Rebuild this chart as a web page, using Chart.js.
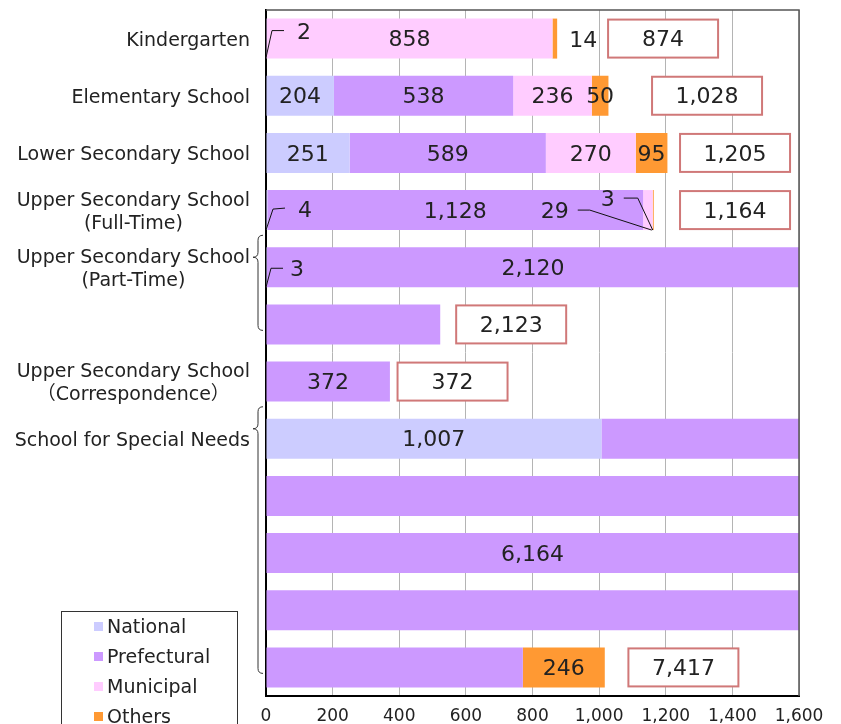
<!DOCTYPE html>
<html>
<head>
<meta charset="utf-8">
<script src="https://cdn.jsdelivr.net/npm/chart.js@4.4.1/dist/chart.umd.min.js"></script>
<style>
  html, body { margin: 0; padding: 0; background: #fff; }
  canvas { display: block; }
</style>
</head>
<body>
<canvas id="chart" width="841" height="724"></canvas>
<script>
// school types; a bar longer than the axis max runs on over the next rows
const schools = [
  ["Kindergarten"],
  ["Elementary School"],
  ["Lower Secondary School"],
  ["Upper Secondary School", "(Full-Time)"],
  ["Upper Secondary School", "(Part-Time)"],
  ["Upper Secondary School", "（Correspondence）"],
  ["School for Special Needs"],
];
const sectors = ["National", "Prefectural", "Municipal", "Others"];
const national = [2, 204, 251, 4, 3, 0, 1007];
const prefectural = [0, 538, 589, 1128, 2120, 372, 6164];
const municipal = [858, 236, 270, 29, 0, 0, 0];
const others = [14, 50, 95, 3, 0, 0, 246];
const xTicks = [0, 200, 400, 600, 800, 1000, 1200, 1400, 1600];

const series = [national, prefectural, municipal, others];
const colors = ["#ccccff", "#cc99ff", "#ffccff", "#ff9933"];
const rowMax = xTicks[xTicks.length - 1];
const FONT = '"DejaVu Sans", "Noto Sans CJK JP", sans-serif';
const INK = "#222";
const NUDGE = 2; // canvas "middle" sits a bit high for this font

// centre of each total box, in axis units
const totalBoxAt = [1192, 1324, 1408, 1408, 736, 560, 1253];

// small values put beside the bar, key "school:sector"
// offsets in px from the bottom corner of the segment (start or end)
const callouts = {
  "0:0": { side: "start", text: [38, -27], line: [[0, -1], [6, -28], [18, -28]] },
  "0:3": { side: "end", text: [26, -19], line: null },
  "3:0": { side: "start", text: [39, -21], line: [[0, 0], [7, -21], [19, -22]] },
  "3:2": { side: "end", text: [-98, -20], line: [[-75, -20], [-63, -20], [-1, 0]] },
  "3:3": { side: "end", text: [-46, -32], line: [[-30, -32], [-16, -32], [-1, 0]] },
  "4:0": { side: "start", text: [31, -19], line: [[0, 0], [5, -19], [17, -19]] },
};

// wrap every school into rows of at most rowMax
const rows = [];
const pieces = {};
schools.forEach((name, s) => {
  let row = { school: s, label: name, vals: [0, 0, 0, 0] };
  let used = 0;
  series.forEach((arr, k) => {
    let left = arr[s];
    while (left > 0) {
      const take = Math.min(left, rowMax - used);
      (pieces[s + ":" + k] ||= []).push({ row: rows.length, from: used, to: used + take });
      row.vals[k] += take;
      used += take;
      left -= take;
      if (used === rowMax) {
        rows.push(row);
        row = { school: s, label: null, vals: [0, 0, 0, 0] };
        used = 0;
      }
    }
  });
  if (used > 0) rows.push(row);
});

const brace = (ctx, x, top, tip, bottom) => {
  const r = 5;
  ctx.beginPath();
  ctx.moveTo(x + r, top);
  ctx.quadraticCurveTo(x, top, x, top + r);
  ctx.lineTo(x, tip - r);
  ctx.quadraticCurveTo(x, tip, x - r, tip);
  ctx.quadraticCurveTo(x, tip, x, tip + r);
  ctx.lineTo(x, bottom - r);
  ctx.quadraticCurveTo(x, bottom, x + r, bottom);
  ctx.stroke();
};

const decor = {
  id: "decor",
  afterDraw(chart) {
    const { ctx, chartArea: a, scales: { x, y } } = chart;
    const half = chart.getDatasetMeta(0).data[0].height / 2;
    ctx.save();

    // frame top and right
    ctx.strokeStyle = "#555";
    ctx.lineWidth = 1.5;
    ctx.beginPath();
    ctx.moveTo(a.left, a.top);
    ctx.lineTo(a.right, a.top);
    ctx.lineTo(a.right, a.bottom);
    ctx.stroke();

    // category labels, lines centred on each other, block flush right
    ctx.fillStyle = INK;
    ctx.font = "19px " + FONT;
    ctx.textAlign = "center";
    ctx.textBaseline = "middle";
    rows.forEach((r, i) => {
      if (!r.label) return;
      const cy = y.getPixelForValue(i) + NUDGE;
      const w = Math.max(...r.label.map((t) => ctx.measureText(t).width));
      const cx = a.left - 16 - w / 2;
      r.label.forEach((t, j) => {
        ctx.fillText(t, cx, cy + (j - (r.label.length - 1) / 2) * 23);
      });
    });

    // braces for schools spread over several rows
    ctx.strokeStyle = "#333";
    ctx.lineWidth = 1;
    schools.forEach((_, s) => {
      const idx = rows.map((r, i) => (r.school === s ? i : -1)).filter((i) => i >= 0);
      if (idx.length < 2) return;
      const first = y.getPixelForValue(idx[0]);
      const last = y.getPixelForValue(idx[idx.length - 1]);
      brace(ctx, a.left - 8, first - 32, first - 10, last + 6);
    });

    // value labels
    ctx.font = "22px " + FONT;
    Object.keys(pieces).forEach((key) => {
      const [s, k] = key.split(":").map(Number);
      const text = series[k][s].toLocaleString("en-US");
      const ps = pieces[key];
      const co = callouts[key];
      if (co) {
        const p = co.side === "start" ? ps[0] : ps[ps.length - 1];
        const ax = x.getPixelForValue(co.side === "start" ? p.from : p.to);
        const ay = y.getPixelForValue(p.row) + half;
        if (co.line) {
          ctx.strokeStyle = "#111";
          ctx.lineWidth = 1;
          ctx.beginPath();
          co.line.forEach(([dx, dy], j) => {
            if (j) ctx.lineTo(ax + dx, ay + dy);
            else ctx.moveTo(ax + dx, ay + dy);
          });
          ctx.stroke();
        }
        ctx.fillText(text, ax + co.text[0], ay + co.text[1] + NUDGE);
        return;
      }
      const longest = Math.max(...ps.map((p) => p.to - p.from));
      const best = ps.filter((p) => p.to - p.from === longest);
      const p = best[Math.floor((best.length - 1) / 2)];
      ctx.fillText(text, x.getPixelForValue((p.from + p.to) / 2), y.getPixelForValue(p.row) + NUDGE);
    });

    // total boxes
    schools.forEach((_, s) => {
      const total = series.reduce((sum, arr) => sum + arr[s], 0);
      let lastRow = 0;
      rows.forEach((r, i) => { if (r.school === s) lastRow = i; });
      const cx = x.getPixelForValue(totalBoxAt[s]);
      const cy = y.getPixelForValue(lastRow);
      ctx.fillStyle = "#fff";
      ctx.fillRect(cx - 55, cy - 19, 110, 38);
      ctx.strokeStyle = "#d07878";
      ctx.lineWidth = 2;
      ctx.strokeRect(cx - 55, cy - 19, 110, 38);
      ctx.fillStyle = INK;
      ctx.fillText(total.toLocaleString("en-US"), cx, cy + NUDGE);
    });

    // legend box (runs off the bottom edge like the original)
    ctx.fillStyle = "#fff";
    ctx.fillRect(61, 611, 177, 130);
    ctx.strokeStyle = "#333";
    ctx.lineWidth = 1;
    ctx.strokeRect(61.5, 611.5, 176, 130);
    ctx.font = "19px " + FONT;
    ctx.textAlign = "left";
    chart.data.datasets.forEach((ds, i) => {
      const cy = 627 + i * 30;
      ctx.fillStyle = ds.backgroundColor;
      ctx.fillRect(94, cy - 5, 9, 9);
      ctx.fillStyle = INK;
      ctx.fillText(ds.label, 107, cy + 1);
    });
    ctx.restore();
  },
};

new Chart(document.getElementById("chart"), {
  type: "bar",
  data: {
    labels: rows.map((r) => (r.label ? r.label.join(" ") : "")),
    datasets: sectors.map((name, k) => ({
      label: name,
      data: rows.map((r) => r.vals[k]),
      backgroundColor: colors[k],
      barPercentage: 0.7,
      categoryPercentage: 1,
    })),
  },
  options: {
    indexAxis: "y",
    responsive: false,
    animation: false,
    devicePixelRatio: 1,
    events: [],
    layout: { padding: { top: 10, right: 42, left: 0, bottom: 0 } },
    plugins: { legend: { display: false }, tooltip: { enabled: false } },
    scales: {
      x: {
        stacked: true,
        min: 0,
        max: rowMax,
        afterBuildTicks: (sc) => { sc.ticks = xTicks.map((v) => ({ value: v })); },
        afterFit: (sc) => { sc.height = 28; },
        ticks: {
          font: { family: FONT, size: 17 },
          color: INK,
          padding: 10,
          maxRotation: 0,
          autoSkip: false,
          callback: (v) => v.toLocaleString("en-US"),
        },
        grid: { color: "#b4b4b4", lineWidth: 1, drawTicks: false },
        border: { color: "#000", width: 2 },
      },
      y: {
        stacked: true,
        afterFit: (sc) => { sc.width = 266; },
        ticks: { display: false },
        grid: { display: false },
        border: { color: "#000", width: 2 },
      },
    },
  },
  plugins: [decor],
});
</script>
</body>
</html>
